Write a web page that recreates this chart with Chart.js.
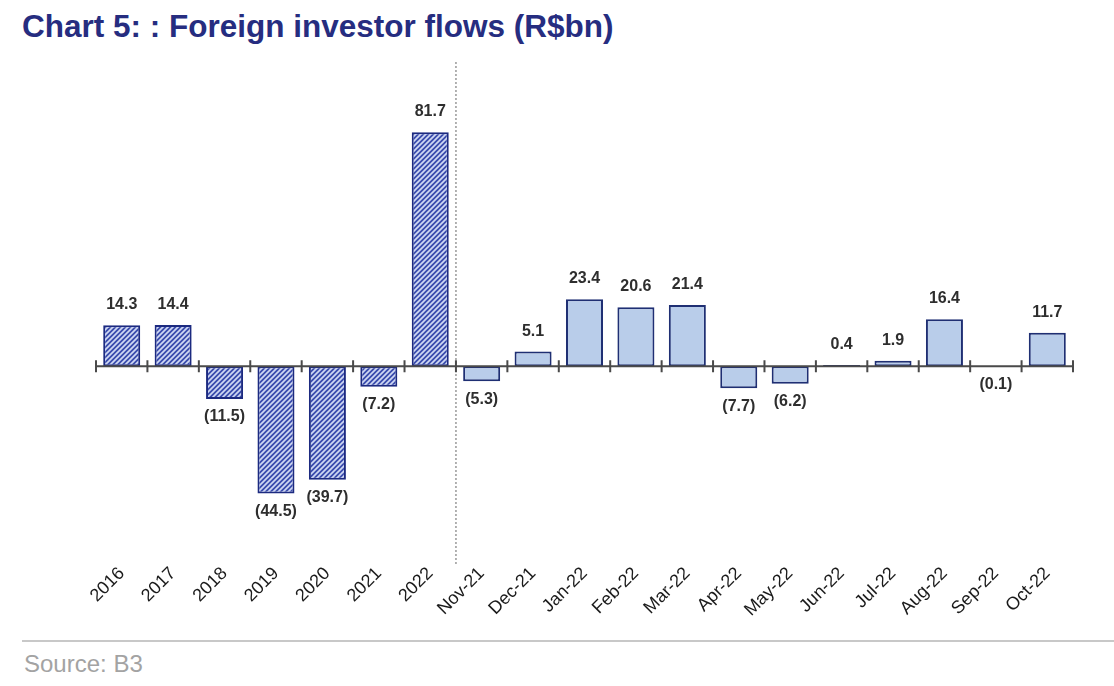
<!DOCTYPE html>
<html>
<head>
<meta charset="utf-8">
<script src="https://cdn.jsdelivr.net/npm/chart.js@4.4.0/dist/chart.umd.min.js"></script>
<style>
  html, body { margin: 0; padding: 0; background: #fff; }
  body { width: 1114px; height: 686px; position: relative; overflow: hidden; font-family: 'Liberation Sans', Arial, sans-serif; }
  #title { position: absolute; left: 22px; top: 10px; font-size: 31.5px; line-height: 32px; font-weight: bold; color: #262d80; white-space: nowrap; }
  #chart { position: absolute; left: 0; top: 0; }
  #rule { position: absolute; left: 22px; top: 640px; width: 1092px; height: 2px; background: #c8c8c8; }
  #source { position: absolute; left: 24px; top: 652px; font-size: 24px; line-height: 24px; color: #a3a3a3; }
</style>
</head>
<body>
<div id="title">Chart 5: : Foreign investor flows (R$bn)</div>
<canvas id="chart" width="1114" height="640"></canvas>
<div id="rule"></div>
<div id="source">Source: B3</div>
<script>
// annual totals first, then the last 12 months
const categories = ['2016', '2017', '2018', '2019', '2020', '2021', '2022',
    'Nov-21', 'Dec-21', 'Jan-22', 'Feb-22', 'Mar-22', 'Apr-22', 'May-22',
    'Jun-22', 'Jul-22', 'Aug-22', 'Sep-22', 'Oct-22'];
const flows = [14.3, 14.4, -11.5, -44.5, -39.7, -7.2, 81.7,
    -5.3, 5.1, 23.4, 20.6, 21.4, -7.7, -6.2, 0.4, 1.9, 16.4, -0.1, 11.7];
const annualCount = 7;

function makeHatch() {
    const s = 5;
    const c = document.createElement('canvas');
    c.width = s; c.height = s;
    const g = c.getContext('2d');
    g.fillStyle = '#3a4cad';
    g.fillRect(0, 0, s, s);
    g.strokeStyle = '#cfd8f3';
    g.lineWidth = 1.7;
    g.beginPath();
    g.moveTo(0, s); g.lineTo(s, 0);
    g.moveTo(-1, 1); g.lineTo(1, -1);
    g.moveTo(s - 1, s + 1); g.lineTo(s + 1, s - 1);
    g.stroke();
    return g.createPattern(c, 'repeat');
}

const hatch = makeHatch();
const fills = flows.map((v, i) => i < annualCount ? hatch : '#b9cdea');
const borders = flows.map((v, i) => i < annualCount ? '#1c2a80' : '#1f2f73');

const fmt = v => v < 0 ? '(' + Math.abs(v).toFixed(1) + ')' : v.toFixed(1);

const decorPlugin = {
    id: 'decor',
    beforeDatasetsDraw(chart) {
        // dotted divider between annual and monthly bars
        const ctx = chart.ctx;
        const x = chart.scales.x;
        const step = x.getPixelForValue(1) - x.getPixelForValue(0);
        const dx = x.getPixelForValue(annualCount - 1) + step / 2;
        ctx.save();
        ctx.strokeStyle = '#999';
        ctx.lineWidth = 1.5;
        ctx.setLineDash([2, 2]);
        ctx.beginPath();
        ctx.moveTo(dx, 62);
        ctx.lineTo(dx, 565);
        ctx.stroke();
        ctx.restore();
    },
    afterDatasetsDraw(chart) {
        const ctx = chart.ctx;
        const x = chart.scales.x;
        const y0 = chart.scales.y.getPixelForValue(0);
        const step = x.getPixelForValue(1) - x.getPixelForValue(0);
        ctx.save();
        // zero axis with ticks at category boundaries
        ctx.strokeStyle = '#4a4a4a';
        ctx.lineWidth = 2;
        ctx.beginPath();
        ctx.moveTo(chart.chartArea.left, y0);
        ctx.lineTo(chart.chartArea.right, y0);
        for (let i = 0; i <= categories.length; i++) {
            const tx = x.getPixelForValue(0) - step / 2 + i * step;
            ctx.moveTo(tx, y0 - 6);
            ctx.lineTo(tx, y0 + 6);
        }
        ctx.stroke();
        // value labels
        const meta = chart.getDatasetMeta(0);
        ctx.fillStyle = '#2e2e2e';
        ctx.font = 'bold 16px "Liberation Sans", Arial, sans-serif';
        ctx.textAlign = 'center';
        meta.data.forEach((bar, i) => {
            const v = flows[i];
            if (v >= 0) {
                ctx.textBaseline = 'alphabetic';
                ctx.fillText(fmt(v), bar.x, bar.y - 16);
            } else {
                ctx.textBaseline = 'top';
                ctx.fillText(fmt(v), bar.x, bar.y + 10);
            }
        });
        ctx.restore();
    }
};

new Chart(document.getElementById('chart'), {
    type: 'bar',
    data: {
        labels: categories,
        datasets: [{
            data: flows,
            backgroundColor: fills,
            borderColor: borders,
            borderWidth: 2,
            borderSkipped: false,
            barPercentage: 0.72,
            categoryPercentage: 1
        }]
    },
    options: {
        responsive: false,
        animation: false,
        layout: { padding: { left: 96, right: 41, top: 100, bottom: 5 } },
        plugins: { legend: { display: false }, tooltip: { enabled: false } },
        scales: {
            y: { display: false, min: -66, max: 93 },
            x: {
                grid: { display: false },
                border: { display: false },
                ticks: {
                    minRotation: 45, maxRotation: 45, padding: 0,
                    color: '#1a1a1a',
                    font: { family: '"Liberation Sans", Arial, sans-serif', size: 18 }
                },
                afterFit(scale) { scale.height = 80; }
            }
        }
    },
    plugins: [decorPlugin]
});
</script>
</body>
</html>
